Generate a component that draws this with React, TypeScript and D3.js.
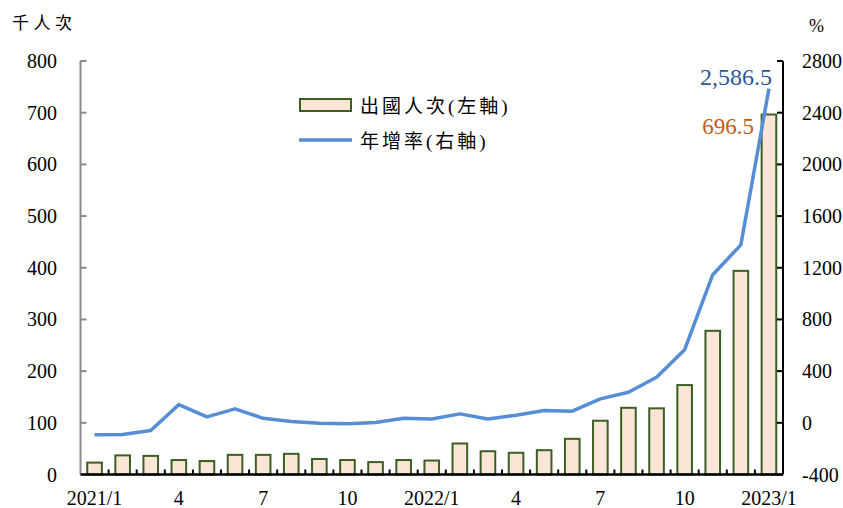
import React from "react";
import * as d3 from "d3";

// Monthly outbound travellers (thousand person-trips) and YoY growth (%)
const months: string[] = [
  "2021/1", "2021/2", "2021/3", "2021/4", "2021/5", "2021/6", "2021/7", "2021/8",
  "2021/9", "2021/10", "2021/11", "2021/12", "2022/1", "2022/2", "2022/3", "2022/4",
  "2022/5", "2022/6", "2022/7", "2022/8", "2022/9", "2022/10", "2022/11", "2022/12", "2023/1",
];
const travellers: number[] = [
  23, 37, 36, 28, 26, 38, 38, 40, 30, 28, 24, 28,
  27, 60, 45, 42, 47, 69, 104, 129, 128, 173, 278, 394, 696.5,
];
const growth: number[] = [
  -93, -91, -60, 141, 46, 108, 35, 10, -3, -8, 2, 35,
  30, 69, 30, 58, 95, 90, 185, 236, 352, 566, 1146, 1377, 2586.5,
];
const xTickLabels: Record<string, string> = {
  "2021/1": "2021/1", "2021/4": "4", "2021/7": "7", "2021/10": "10",
  "2022/1": "2022/1", "2022/4": "4", "2022/7": "7", "2022/10": "10", "2023/1": "2023/1",
};
const leftTicks: number[] = [0, 100, 200, 300, 400, 500, 600, 700, 800];
const rightTicks: number[] = [-400, 0, 400, 800, 1200, 1600, 2000, 2400, 2800];

const W = 843;
const H = 508;
const left = 80.5;
const right = 783;
const top = 61;
const bottom = 474.5;

const NUM_FONT = "'Liberation Serif', 'Times New Roman', serif";
const CJK_FONT = "'Liberation Serif', 'Noto Sans CJK TC', 'Noto Sans CJK JP', serif";

const BAR_FILL = "#FBE5D6";
const BAR_STROKE = "#3B5E24";
const LINE_COLOR = "#558ED5";

export default function App() {
  const x = d3.scaleBand<string>().domain(months).range([left, right]).paddingInner(0.48).paddingOuter(0.24);
  const step = x.step();
  const yL = d3.scaleLinear().domain([0, 800]).range([bottom, top]);
  const yR = d3.scaleLinear().domain([-400, 2800]).range([bottom, top]);
  const cx = (m: string) => (x(m) as number) + x.bandwidth() / 2;

  const line = d3
    .line<number>()
    .x((_, i) => cx(months[i]))
    .y((d) => yR(d));

  const lastIdx = months.length - 1;
  const lastX = cx(months[lastIdx]);

  return (
    <svg
      width={W}
      height={H}
      style={{ position: "absolute", left: 0, top: 0, background: "#fff" }}
    >
      {/* unit labels */}
      <text x={12} y={23} dominantBaseline="central" fontFamily={CJK_FONT} fontSize={17} letterSpacing={4.5} fill="#000">
        千人次
      </text>
      <text x={809} y={32} fontFamily={NUM_FONT} fontSize={18} fill="#000">
        %
      </text>

      {/* bars */}
      {travellers.map((v, i) => (
        <rect
          key={months[i]}
          x={x(months[i])}
          y={yL(v)}
          width={x.bandwidth()}
          height={yL(0) - yL(v)}
          fill={BAR_FILL}
          stroke={BAR_STROKE}
          strokeWidth={2}
        />
      ))}

      {/* growth line */}
      <path d={line(growth) as string} fill="none" stroke={LINE_COLOR} strokeWidth={3.5} strokeLinejoin="round" />

      {/* left axis */}
      <line x1={left} x2={left} y1={top} y2={bottom} stroke="#8A8A8A" strokeWidth={2} />
      {leftTicks.map((t) => (
        <g key={"l" + t}>
          <line x1={left} x2={left + 6} y1={yL(t)} y2={yL(t)} stroke="#8A8A8A" strokeWidth={2} />
          <text x={57} y={yL(t)} dy="0.35em" textAnchor="end" fontFamily={NUM_FONT} fontSize={20} fill="#000">
            {t}
          </text>
        </g>
      ))}

      {/* right axis */}
      <line x1={right} x2={right} y1={top} y2={bottom} stroke="#000" strokeWidth={2} />
      {rightTicks.map((t) => (
        <g key={"r" + t}>
          <line x1={right - 6} x2={right} y1={yR(t)} y2={yR(t)} stroke="#000" strokeWidth={2} />
          <text x={802} y={yR(t)} dy="0.35em" textAnchor="start" fontFamily={NUM_FONT} fontSize={20} fill="#000">
            {t}
          </text>
        </g>
      ))}

      {/* x axis */}
      <line x1={left} x2={right} y1={bottom} y2={bottom} stroke="#000" strokeWidth={2.5} />
      {months.slice(1).map((m) => (
        <line
          key={"t" + m}
          x1={(x(m) as number) - step * 0.24}
          x2={(x(m) as number) - step * 0.24}
          y1={bottom}
          y2={bottom - 5}
          stroke="#000"
          strokeWidth={2}
        />
      ))}
      {months.map((m) =>
        xTickLabels[m] ? (
          <text key={"x" + m} x={cx(m)} y={505} textAnchor="middle" fontFamily={NUM_FONT} fontSize={20} fill="#000">
            {xTickLabels[m]}
          </text>
        ) : null
      )}

      {/* value labels on last month */}
      <text x={lastX + 3} y={85} textAnchor="end" fontFamily={NUM_FONT} fontSize={24} fill="#2F5597">
        {d3.format(",.1f")(growth[lastIdx])}
      </text>
      <text x={lastX - 15} y={134} textAnchor="end" fontFamily={NUM_FONT} fontSize={23} fill="#C55A11">
        {d3.format(".1f")(travellers[lastIdx])}
      </text>

      {/* legend */}
      <rect x={300} y={99} width={51} height={12} fill={BAR_FILL} stroke={BAR_STROKE} strokeWidth={2} />
      <text x={360} y={106} dominantBaseline="central" fontFamily={CJK_FONT} fontSize={19} letterSpacing={3} fill="#000">
        出國人次(左軸)
      </text>
      <line x1={299} x2={352} y1={140} y2={140} stroke={LINE_COLOR} strokeWidth={3.5} />
      <text x={360} y={141} dominantBaseline="central" fontFamily={CJK_FONT} fontSize={19} letterSpacing={3} fill="#000">
        年增率(右軸)
      </text>
    </svg>
  );
}
